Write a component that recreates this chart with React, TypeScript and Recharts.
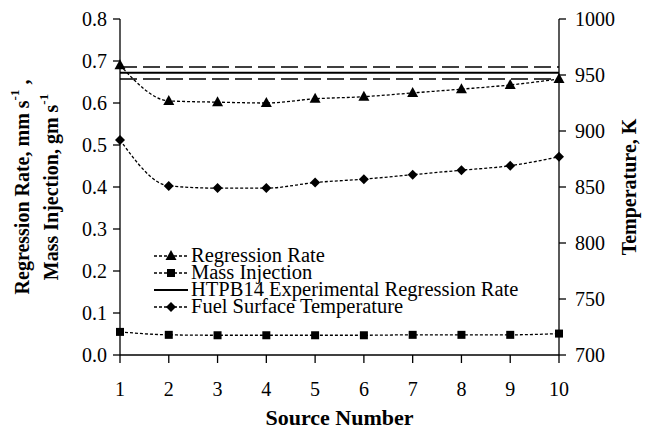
import React from 'react';
import { LineChart, Line, XAxis, YAxis, ReferenceLine, Legend } from 'recharts';

// values
const sources = [1, 2, 3, 4, 5, 6, 7, 8, 9, 10];
const regressionRate = [0.69, 0.605, 0.602, 0.6, 0.61, 0.615, 0.624, 0.633, 0.643, 0.657];
const massInjection = [0.055, 0.048, 0.047, 0.047, 0.047, 0.047, 0.048, 0.048, 0.048, 0.051];
const surfaceTemp = [892, 851, 849, 849, 854, 857, 861, 865, 869, 877];

// HTPB14 experimental regression rate and its error band
const htpbRate = 0.672;
const htpbUpper = 0.686;
const htpbLower = 0.657;

const leftTicks = [0, 0.1, 0.2, 0.3, 0.4, 0.5, 0.6, 0.7, 0.8];
const rightTicks = [700, 750, 800, 850, 900, 950, 1000];

const legendItems = [
  { name: 'Regression Rate', marker: 'triangle', dashed: true },
  { name: 'Mass Injection', marker: 'square', dashed: true },
  { name: 'HTPB14 Experimental Regression Rate', marker: 'none', dashed: false },
  { name: 'Fuel Surface Temperature', marker: 'diamond', dashed: true },
];

const data = sources.map((s, i) => ({
  source: s,
  rate: regressionRate[i],
  mass: massInjection[i],
  temp: surfaceTemp[i],
}));

const FONT = 'Liberation Serif, Times New Roman, Tinos, Times, DejaVu Serif, serif';
const DOTTED = '3 2';

const markerShape = (kind: string, cx: number, cy: number, key?: any) => {
  if (kind === 'triangle') {
    return <polygon key={key} points={`${cx},${cy - 6} ${cx - 5.5},${cy + 4} ${cx + 5.5},${cy + 4}`} fill="#000" />;
  }
  if (kind === 'square') {
    return <rect key={key} x={cx - 4} y={cy - 4} width={8} height={8} fill="#000" />;
  }
  if (kind === 'diamond') {
    return <polygon key={key} points={`${cx},${cy - 5} ${cx + 5},${cy} ${cx},${cy + 5} ${cx - 5},${cy}`} fill="#000" />;
  }
  return null;
};

const makeDot = (kind: string) => (props: any) => {
  const { cx, cy, index } = props;
  if (cx == null || cy == null) return <g key={index} />;
  return markerShape(kind, cx, cy, index);
};

const LegendBox = () => (
  <div style={{ fontFamily: FONT, fontSize: 20.5, color: '#000' }}>
    {legendItems.map((item) => (
      <div key={item.name} style={{ display: 'flex', alignItems: 'center', height: 17, whiteSpace: 'nowrap' }}>
        <svg width={41} height={17} style={{ flex: 'none' }}>
          <line
            x1={4}
            x2={38}
            y1={9}
            y2={9}
            stroke="#000"
            strokeWidth={item.dashed ? 1.3 : 2}
            strokeDasharray={item.dashed ? DOTTED : undefined}
          />
          {markerShape(item.marker, 21, 9)}
        </svg>
        <span style={{ lineHeight: '17px' }}>{item.name}</span>
      </div>
    ))}
  </div>
);

const LeftLabel = (props: any) => {
  const { viewBox } = props;
  const cy = viewBox.y + viewBox.height / 2;
  const x1 = viewBox.x + 22;
  const x2 = viewBox.x + 51;
  const common = {
    fontFamily: FONT,
    fontWeight: 'bold' as const,
    fontSize: 20,
    fill: '#000',
    textAnchor: 'middle' as const,
    dominantBaseline: 'central' as const,
  };
  return (
    <g>
      <text {...common} x={x1} y={cy} transform={`rotate(-90 ${x1} ${cy})`}>
        Regression Rate, mm s
        <tspan fontSize={13} dy={-8}>-1</tspan>
        <tspan dy={8}> ,</tspan>
      </text>
      <text {...common} x={x2} y={cy} transform={`rotate(-90 ${x2} ${cy})`}>
        Mass Injection, gm s
        <tspan fontSize={13} dy={-8}>-1</tspan>
      </text>
    </g>
  );
};

const RightLabel = (props: any) => {
  const { viewBox } = props;
  const cy = viewBox.y + viewBox.height / 2;
  const x = viewBox.x + 70;
  return (
    <text
      x={x}
      y={cy}
      transform={`rotate(-90 ${x} ${cy})`}
      fontFamily={FONT}
      fontWeight="bold"
      fontSize={20}
      fill="#000"
      textAnchor="middle"
      dominantBaseline="central"
    >
      Temperature, K
    </text>
  );
};

const BottomLabel = (props: any) => {
  const { viewBox } = props;
  return (
    <text
      x={viewBox.x + viewBox.width / 2}
      y={viewBox.y + 70}
      fontFamily={FONT}
      fontWeight="bold"
      fontSize={22}
      fill="#000"
      textAnchor="middle"
    >
      Source Number
    </text>
  );
};

const tickStyle = { fontSize: 20, fill: '#000', fontFamily: FONT };

const App: React.FC = () => {
  return (
    <div style={{ position: 'absolute', left: 0, top: 0, width: 648, height: 433, background: '#fff', fontFamily: FONT }}>
      <LineChart width={648} height={433} data={data} margin={{ top: 19, right: 0, bottom: 0, left: 0 }}>
        <XAxis
          dataKey="source"
          type="number"
          domain={[1, 10]}
          ticks={sources}
          height={78}
          tick={tickStyle}
          tickSize={8}
          tickMargin={19}
          axisLine={{ stroke: '#000', strokeWidth: 1.3 }}
          tickLine={{ stroke: '#000', strokeWidth: 1.3 }}
          label={<BottomLabel />}
        />
        <YAxis
          yAxisId="left"
          domain={[0, 0.8]}
          ticks={leftTicks}
          width={120}
          tick={tickStyle}
          tickSize={7}
          tickMargin={6}
          tickFormatter={(v: number) => v.toFixed(1)}
          axisLine={{ stroke: '#000', strokeWidth: 1.3 }}
          tickLine={{ stroke: '#000', strokeWidth: 1.3 }}
          label={<LeftLabel />}
        />
        <YAxis
          yAxisId="right"
          orientation="right"
          domain={[700, 1000]}
          ticks={rightTicks}
          width={89}
          tick={tickStyle}
          tickSize={7}
          tickMargin={9}
          axisLine={{ stroke: '#000', strokeWidth: 1.3 }}
          tickLine={{ stroke: '#000', strokeWidth: 1.3 }}
          label={<RightLabel />}
        />
        <ReferenceLine yAxisId="left" y={htpbUpper} stroke="#000" strokeWidth={1.5} strokeDasharray="17 6" />
        <ReferenceLine yAxisId="left" y={htpbRate} stroke="#000" strokeWidth={2} />
        <ReferenceLine yAxisId="left" y={htpbLower} stroke="#000" strokeWidth={1.5} strokeDasharray="17 6" />
        <Line
          yAxisId="left"
          dataKey="rate"
          type="monotone"
          stroke="#000"
          strokeWidth={1.3}
          strokeDasharray={DOTTED}
          dot={makeDot('triangle')}
          activeDot={false}
          isAnimationActive={false}
        />
        <Line
          yAxisId="left"
          dataKey="mass"
          type="monotone"
          stroke="#000"
          strokeWidth={1.3}
          strokeDasharray={DOTTED}
          dot={makeDot('square')}
          activeDot={false}
          isAnimationActive={false}
        />
        <Line
          yAxisId="right"
          dataKey="temp"
          type="monotone"
          stroke="#000"
          strokeWidth={1.3}
          strokeDasharray={DOTTED}
          dot={makeDot('diamond')}
          activeDot={false}
          isAnimationActive={false}
        />
        <Legend
          layout="vertical"
          align="center"
          verticalAlign="middle"
          content={<LegendBox />}
          wrapperStyle={{ left: 150, top: 247, width: 420, height: 70 }}
        />
      </LineChart>
    </div>
  );
};

export default App;
